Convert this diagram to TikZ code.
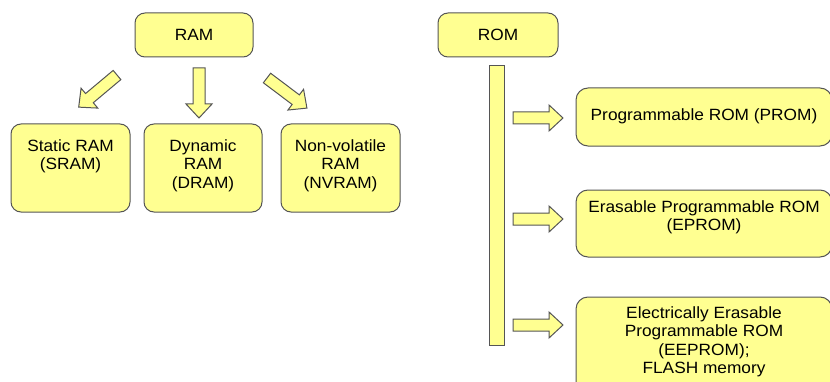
\documentclass[tikz,border=0pt]{standalone}
\usepackage{fontspec}
\setmainfont[FakeStretch=1.06]{Liberation Sans}
\usetikzlibrary{positioning}
\definecolor{memfill}{RGB}{255,255,145}
\definecolor{memline}{RGB}{85,85,85}
\begin{document}
\begin{tikzpicture}[x=1pt,y=1pt,
        box/.style={draw=memline,fill=memfill,line width=1pt,rounded corners=10pt,inner sep=0pt},
        txt/.style={align=center,inner sep=0pt,font=\fontsize{16.3}{18.3}\selectfont},
        blockarrow/.style={draw=memline,fill=memfill,line width=1pt,line join=miter}]
            \def\arrowpath{(0,-6) -- (36,-6) -- (36,-13) -- (50,0) -- (36,13) -- (36,6) -- (0,6) -- cycle}
            \useasboundingbox (0,0) rectangle (830,381);
            % RAM side
            \node[box,txt,minimum width=118pt,minimum height=44pt] (ram) at (194,346) {RAM};
            \draw [blockarrow,shift={(117,306)},rotate=220] \arrowpath ;
            \draw [blockarrow,shift={(199,313)},rotate=-90] \arrowpath ;
            \draw [blockarrow,shift={(267,303)},rotate=-37] \arrowpath ;
            \node[box,minimum width=119pt,minimum height=88pt] (sram) at (70.5,213) {};
            \node[box,minimum width=118pt,minimum height=88pt] (dram) at (203,213) {};
            \node[box,minimum width=119pt,minimum height=88pt] (nvram) at (340.5,213) {};
            \node[txt,below=16pt of sram.north] (sramtxt) {Static RAM\\(SRAM)};
            \node[txt,below=16pt of dram.north] (dramtxt) {Dynamic\\RAM\\(DRAM)};
            \node[txt,below=16pt of nvram.north] (nvramtxt) {Non-volatile\\RAM\\(NVRAM)};
            % ROM side
            \node[box,txt,minimum width=120pt,minimum height=44pt] (rom) at (498,346) {ROM};
            \node[draw=memline,fill=memfill,line width=1pt,inner sep=0pt,
                minimum width=15pt,minimum height=279pt] (bar) at (496.5,175.5) {};
            \draw [blockarrow,shift={(513,263)}] \arrowpath ;
            \draw [blockarrow,shift={(513,162)}] \arrowpath ;
            \draw [blockarrow,shift={(513,56)}] \arrowpath ;
            \node[box,rounded corners=12pt,minimum width=256pt,minimum height=58pt] (prom) at (704,264) {};
            \node[box,rounded corners=12pt,minimum width=256pt,minimum height=67pt] (eprom) at (704,157.5) {};
            \node[box,rounded corners=12pt,minimum width=256pt,minimum height=104pt] (eeprom) at (704,32) {};
            \node[txt,below=21pt of prom.north] (promtxt) {Programmable ROM (PROM)};
            \node[txt,below=11pt of eprom.north] (epromtxt) {Erasable Programmable ROM\\(EPROM)};
            \node[txt,below=10pt of eeprom.north] (eepromtxt) {Electrically Erasable\\Programmable ROM\\(EEPROM);\\FLASH memory};
        \end{tikzpicture}
\end{document}
